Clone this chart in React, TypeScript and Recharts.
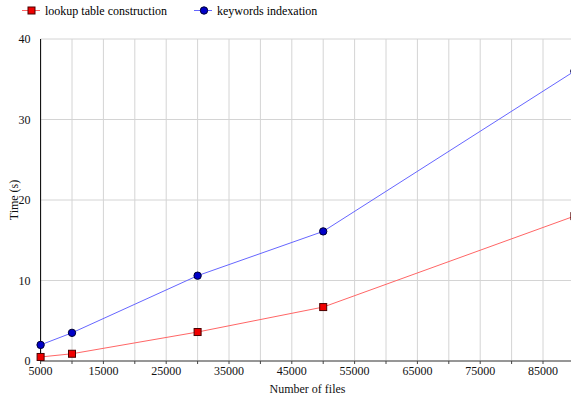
import React from 'react';
import { LineChart, Line, XAxis, YAxis, CartesianGrid, Label } from 'recharts';

// number of files per run
const fileCounts = [5000, 10000, 30000, 50000, 90000];
// seconds spent building the lookup table
const lookupTimes = [0.5, 0.9, 3.6, 6.7, 18.0];
// seconds spent indexing keywords
const indexTimes = [2.0, 3.5, 10.6, 16.1, 36.0];

const xTicks = [5000, 10000, 15000, 20000, 25000, 30000, 35000, 40000, 45000, 50000, 55000, 60000, 65000, 70000, 75000, 80000, 85000, 90000];
const xLabels = [5000, 15000, 25000, 35000, 45000, 55000, 65000, 75000, 85000];
const yTicks = [0, 10, 20, 30, 40];

const data = fileCounts.map((files, i) => ({
  files,
  lookup: lookupTimes[i],
  index: indexTimes[i],
}));

const FONT = 'Liberation Serif';
const RED_LINE = '#ff6666';
const BLUE_LINE = '#6666ff';
const RED_FILL = '#f00000';
const BLUE_FILL = '#0000c8';

const SquareDot = (props: any) => {
  const { cx, cy, index } = props;
  if (cx == null || cy == null) return null;
  return <rect key={`sq-${index}`} x={cx - 3.5} y={cy - 3.5} width={7} height={7} fill={RED_FILL} stroke="#4a0000" strokeWidth={1} />;
};

const CircleDot = (props: any) => {
  const { cx, cy, index } = props;
  if (cx == null || cy == null) return null;
  return <circle key={`ci-${index}`} cx={cx} cy={cy} r={3.7} fill={BLUE_FILL} stroke="#000033" strokeWidth={1} />;
};

// legend strip drawn over the top-left corner of the chart
const LegendRow = () => (
  <svg width={400} height={22} style={{ position: 'absolute', left: 0, top: 0 }}>
    <line x1={22} y1={10.5} x2={40} y2={10.5} stroke={RED_LINE} />
    <rect x={28} y={7} width={7} height={7} fill={RED_FILL} stroke="#4a0000" />
    <text x={45} y={14.5} fontFamily={FONT} fontSize={12} fill="#000">lookup table construction</text>
    <line x1={194} y1={10.5} x2={212} y2={10.5} stroke={BLUE_LINE} />
    <circle cx={204} cy={10.5} r={3.7} fill={BLUE_FILL} stroke="#000033" />
    <text x={217} y={14.5} fontFamily={FONT} fontSize={12} fill="#000">keywords indexation</text>
  </svg>
);

export default function App() {
  return (
    <div style={{ position: 'fixed', left: 0, top: 0, width: 571, height: 400, overflow: 'hidden', background: '#fff' }}>
      <div style={{ position: 'absolute', left: 0, top: 0, width: 582, height: 400 }}>
        <LineChart width={582} height={400} data={data} margin={{ top: 39, right: 7.6, bottom: 0, left: 10 }}>
          <CartesianGrid stroke="#d4d4d4" strokeWidth={1} />
          <XAxis
            dataKey="files"
            type="number"
            domain={[5000, 90000]}
            ticks={xTicks}
            tickFormatter={(v: number) => (xLabels.includes(v) ? String(v) : '')}
            interval={0}
            height={39}
            tick={{ fontSize: 12, fontFamily: FONT, fill: '#111' }}
            tickSize={3}
            tickMargin={2}
            stroke="#444"
          >
            <Label value="Number of files" position="insideBottom" offset={7} style={{ fontSize: 12, fontFamily: FONT, fill: '#111' }} />
          </XAxis>
          <YAxis
            type="number"
            domain={[0, 40]}
            ticks={yTicks}
            width={30.6}
            tick={{ fontSize: 12, fontFamily: FONT, fill: '#111' }}
            tickLine={false}
            tickMargin={4}
            stroke="#000"
          >
            <Label value="Time (s)" angle={-90} position="insideLeft" offset={4} style={{ fontSize: 12, fontFamily: FONT, fill: '#111', textAnchor: 'middle' }} />
          </YAxis>
          <Line dataKey="lookup" name="lookup table construction" stroke={RED_LINE} strokeWidth={1} dot={<SquareDot />} activeDot={false} isAnimationActive={false} />
          <Line dataKey="index" name="keywords indexation" stroke={BLUE_LINE} strokeWidth={1} dot={<CircleDot />} activeDot={false} isAnimationActive={false} />
        </LineChart>
      </div>
      <LegendRow />
    </div>
  );
}
